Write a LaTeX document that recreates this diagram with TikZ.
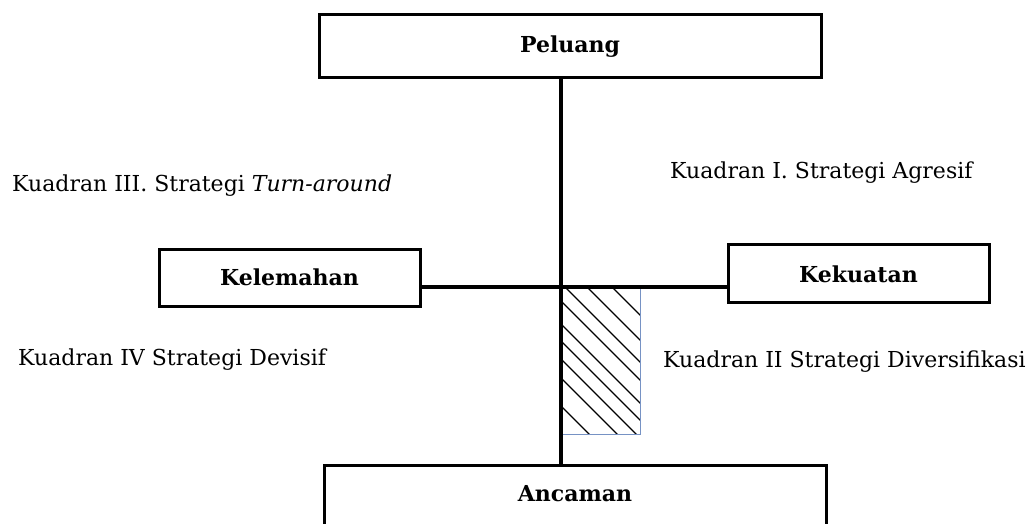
\documentclass[tikz,border=0pt]{standalone}
\usepackage{fontspec}
\setmainfont{DejaVu Serif}
\begin{document}
\begin{tikzpicture}[x=1pt,y=-1pt,
  box/.style={draw=black,line width=3pt,rectangle,inner sep=0pt,font=\fontsize{22}{25}\selectfont\bfseries,text depth=0pt},
  axis/.style={line width=3.2pt,black},
  quad/.style={anchor=base west,inner sep=0pt,font=\fontsize{22}{25}\selectfont},
  hatchbox/.style={draw={rgb,255:red,118;green,146;blue,196},line width=1pt},
  hatchline/.style={line width=1.1pt,black}]
\useasboundingbox (0,0) rectangle (1030,523);
\clip (0,0) rectangle (1030,523);
% boxes
\node[box,minimum width=502pt,minimum height=63pt,text height=13pt] (peluang) at (570,45.5) {Peluang};
\node[box,minimum width=261pt,minimum height=57pt,text height=15pt] (kelemahan) at (289.5,277.5) {Kelemahan};
\node[box,minimum width=261pt,minimum height=58pt,text height=18pt] (kekuatan) at (858.5,273) {Kekuatan};
\node[box,minimum width=502pt,minimum height=74pt,text height=10pt,text depth=12pt] (ancaman) at (575,502) {Ancaman};
% hatched area
\begin{scope}
\clip (561.5,287) rectangle (640,434);
\foreach \c in {-325,-300,-278,-260,-237,-220,-202,-183,-155}{
  \draw[hatchline] (500,500+\c) -- (720,720+\c);
}
\end{scope}
\draw[hatchbox] (561.5,287) rectangle (640,434);
% axes
\coordinate (o) at (561,287);
\draw[axis] (o |- peluang.south) -- (o |- ancaman.north);
\draw[axis] (kelemahan.east |- o) -- (kekuatan.west |- o);
% quadrant labels
\node[quad] (q1) at (670,178.5) {Kuadran I. Strategi Agresif};
\node[quad] (q2) at (663,367) {Kuadran II Strategi Diversifikasi};
\node[quad] (q3) at (12,191) {Kuadran III. Strategi \textit{Turn-around}};
\node[quad] (q4) at (18,365) {Kuadran IV Strategi Devisif};
\end{tikzpicture}
\end{document}
